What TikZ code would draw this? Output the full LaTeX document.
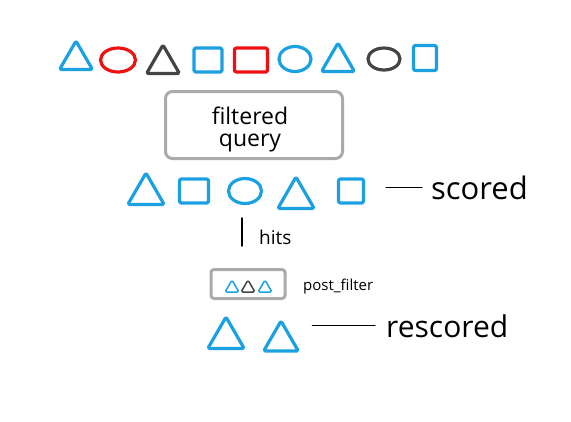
\documentclass[tikz,border=0pt]{standalone}
\usepackage{fontspec}
\setmainfont{Open Sans}
\usepackage{xcolor}
\usetikzlibrary{shapes.geometric}
\usetikzlibrary{calc}

\definecolor{markblue}{HTML}{1BA1E2}
\definecolor{markred}{HTML}{EE1111}
\definecolor{markdark}{HTML}{444444}
\definecolor{boxgray}{HTML}{AAAAAA}

\tikzset{
  shapeline/.style={line width=3.2pt, line join=round, rounded corners=1.5pt, inner sep=0pt},
  trimark/.style={shapeline, regular polygon, regular polygon sides=3, minimum size=38pt},
  sqmark/.style={shapeline, rectangle},
  circmark/.style={shapeline, ellipse},
  greybox/.style={draw=boxgray, line width=3pt, rounded corners=7pt},
  hand/.style={inner sep=0pt, text=black},
  penline/.style={line width=1.4pt, line cap=round},
}

\begin{document}
\begin{tikzpicture}[x=1pt,y=-1pt]
                \useasboundingbox (0,0) rectangle (571,421);
                % all documents
                \node[trimark, draw=markblue] (t1) at (76,60) {};
                \node[circmark, draw=markred, minimum width=35pt, minimum height=24pt] (c2) at (118,60) {};
                \node[trimark, draw=markdark] (t3) at (163,64) {};
                \node[sqmark, draw=markblue, minimum width=28pt, minimum height=24pt] (s4) at (208,60) {};
                \node[sqmark, draw=markred, minimum width=33pt, minimum height=24pt] (s5) at (251,60) {};
                \node[circmark, draw=markblue, minimum width=32pt, minimum height=25pt] (c6) at (295,59) {};
                \node[trimark, draw=markblue] (t7) at (338,62) {};
                \node[circmark, draw=markdark, minimum width=32pt, minimum height=22pt] (c8) at (384,59) {};
                \node[sqmark, draw=markblue, minimum width=23pt, minimum height=25pt] (s9) at (425,58) {};
                % query
                \node[greybox, minimum width=177pt, minimum height=67pt] (query) at (254,125) {};
                \node[hand, align=center, font=\fontsize{23}{22}\selectfont] (querytext) at (250,129) {filtered\\query};
                % scored hits
                \node[trimark, draw=markblue, minimum size=42pt] (h1) at (146,194) {};
                \node[sqmark, draw=markblue, minimum width=29pt, minimum height=24pt] (h2) at (194,191) {};
                \node[circmark, draw=markblue, minimum width=33pt, minimum height=25pt] (h3) at (245,191) {};
                \node[trimark, draw=markblue, minimum size=42pt] (h4) at (296,198) {};
                \node[sqmark, draw=markblue, minimum width=25pt, minimum height=24pt] (h5) at (351,191) {};
                \node[hand, anchor=base west, font=\fontsize{31}{31}\selectfont] (scored) at (431,199) {scored};
                \draw[penline] ([xshift=21pt]h5.east |- scored.west) -- ([xshift=-9pt]scored.west);
                \coordinate (bartop) at (242,218);
                \coordinate (barbot) at (242,246);
                \draw[penline] (bartop) -- (barbot);
                \node[hand, anchor=base west, font=\fontsize{19}{19}\selectfont] (hits) at (259,244) {hits};
                % post filter
                \node[greybox, rounded corners=3pt, minimum width=74pt, minimum height=29pt] (pfbox) at (248,284) {};
                \node[trimark, draw=markblue, line width=1.5pt, minimum size=16pt] (p1) at (232,288) {};
                \node[trimark, draw=markdark, line width=1.5pt, minimum size=16pt] (p2) at (248,288) {};
                \node[trimark, draw=markblue, line width=1.5pt, minimum size=16pt] (p3) at (265,288) {};
                \node[hand, anchor=base west, font=\fontsize{15}{15}\selectfont] (pflabel) at (303,290) {post\_filter};
                % rescored
                \node[trimark, draw=markblue, minimum size=42pt] (r1) at (226,338) {};
                \node[trimark, draw=markblue, minimum size=40pt] (r2) at (281,341) {};
                \node[hand, anchor=base west, font=\fontsize{30}{30}\selectfont] (rescored) at (386,337) {rescored};
                \draw[penline] ([xshift=18pt]r2.east |- rescored.west) -- ([xshift=-11pt]rescored.west);
\end{tikzpicture}
\end{document}
